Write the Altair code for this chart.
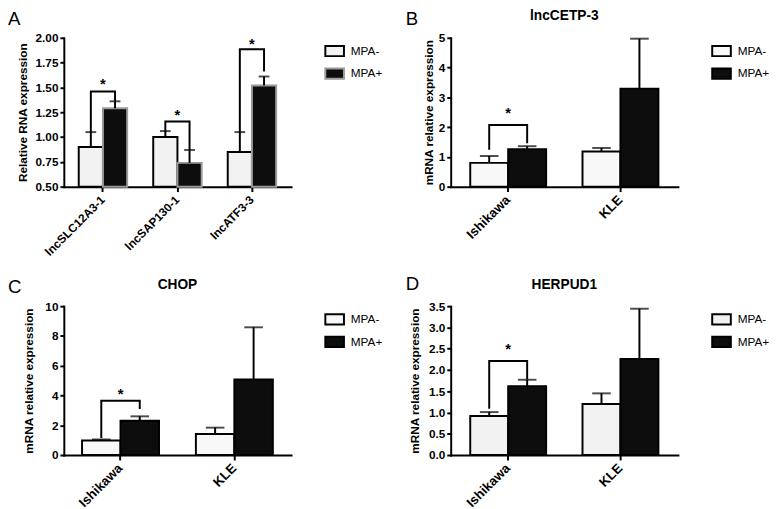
import altair as alt
import pandas as pd

GROUPS = ["MPA-", "MPA+"]
LETTERS = ["A", "B", "C", "D"]
TITLES = ["", "lncCETP-3", "CHOP", "HERPUD1"]
Y_TITLES = ["Relative RNA expression", "mRNA relative expression",
            "mRNA relative expression", "mRNA relative expression"]

# Panel A
A_CATS = ["lncSLC12A3-1", "lncSAP130-1", "lncATF3-3"]
A_MINUS = [0.90, 1.00, 0.85]
A_MINUS_ERR = [1.05, 1.06, 1.05]
A_PLUS = [1.29, 0.74, 1.52]
A_PLUS_ERR = [1.36, 0.87, 1.61]
A_BR_CATS = ["lncSLC12A3-1", "lncSAP130-1", "lncATF3-3"]
A_BR_TOP = [1.46, 1.157, 1.885]
A_BR_LEFT = [1.05, 1.06, 1.05]
A_BR_RIGHT = [1.36, 0.87, 1.66]
A_STAR = [1.56, 1.25, 1.97]
A_TICKS = [0.50, 0.75, 1.00, 1.25, 1.50, 1.75, 2.00]

CELL_CATS = ["Ishikawa", "KLE"]

# Panel B  lncCETP-3
B_MINUS = [0.80, 1.18]
B_MINUS_ERR = [1.03, 1.30]
B_PLUS = [1.26, 3.29]
B_PLUS_ERR = [1.36, 4.97]
B_BR_CATS = ["Ishikawa"]
B_BR_TOP = [2.07]
B_BR_LEFT = [1.24]
B_BR_RIGHT = [1.46]
B_STAR = [2.56]
B_TICKS = [0, 1, 2, 3, 4, 5]

# Panel C  CHOP
C_MINUS = [0.98, 1.42]
C_MINUS_ERR = [1.05, 1.84]
C_PLUS = [2.30, 5.08]
C_PLUS_ERR = [2.60, 8.58]
C_BR_CATS = ["Ishikawa"]
C_BR_TOP = [3.65]
C_BR_LEFT = [1.14]
C_BR_RIGHT = [3.10]
C_STAR = [4.30]
C_TICKS = [0, 2, 4, 6, 8, 10]

# Panel D  HERPUD1
D_MINUS = [0.92, 1.20]
D_MINUS_ERR = [1.01, 1.45]
D_PLUS = [1.62, 2.26]
D_PLUS_ERR = [1.77, 3.44]
D_BR_CATS = ["Ishikawa"]
D_BR_TOP = [2.21]
D_BR_LEFT = [1.09]
D_BR_RIGHT = [1.78]
D_STAR = [2.57]
D_TICKS = [0.0, 0.5, 1.0, 1.5, 2.0, 2.5, 3.0, 3.5]

FONT = "Liberation Sans"
W, H = 232, 152


def panel(idx, cats, minus, minus_err, plus, plus_err, base,
          br_cats, br_top, br_left, br_right, star, ticks, fmt, domain,
          title_pad, cap, fills, strokes, pad_inner, pad_outer, label_size,
          letter_x, letter_y):
    n = len(cats)
    bars = pd.DataFrame({
        "cat": cats * 2,
        "grp": ["MPA-"] * n + ["MPA+"] * n,
        "val": minus + plus,
        "err": minus_err + plus_err,
        "base": [base] * (2 * n),
    })
    rows = []
    for c, t, l, r in zip(br_cats, br_top, br_left, br_right):
        rows += [
            {"cat": c, "grp": "MPA-", "v": l, "o": 0},
            {"cat": c, "grp": "MPA-", "v": t, "o": 1},
            {"cat": c, "grp": "MPA+", "v": t, "o": 2},
            {"cat": c, "grp": "MPA+", "v": r, "o": 3},
        ]
    brackets = pd.DataFrame(rows)
    stars = pd.DataFrame({"cat": br_cats, "v": star})
    letter = pd.DataFrame({"t": [LETTERS[idx]]})
    gene = pd.DataFrame({"t": [TITLES[idx]]})

    xscale = alt.Scale(paddingInner=pad_inner, paddingOuter=pad_outer)
    xaxis = alt.Axis(title=None, labelAngle=-45, labelAlign="right",
                     labelBaseline="middle", tickSize=5, labelPadding=6,
                     labelFontSize=label_size)
    x = alt.X("cat:N", sort=cats, scale=xscale, axis=xaxis)
    xo = alt.XOffset("grp:N", sort=GROUPS,
                     scale=alt.Scale(paddingInner=0, paddingOuter=0))
    yscale = alt.Scale(domain=domain, nice=False, zero=False)
    yaxis = alt.Axis(values=ticks, format=fmt, title=Y_TITLES[idx],
                     titlePadding=title_pad, labelFlush=False)

    def Y(field):
        return alt.Y(field, scale=yscale, axis=yaxis, title=Y_TITLES[idx])

    leg = alt.Legend(title=None, orient="none", legendX=266, legendY=3,
                     symbolType="M-1,-0.55L1,-0.55L1,0.55L-1,0.55Z",
                     symbolSize=361, symbolStrokeWidth=2,
                     labelFont=FONT, labelFontSize=12, labelColor="black",
                     labelOffset=6, rowPadding=3, padding=0)

    bar = alt.Chart(bars).mark_bar(strokeWidth=2).encode(
        x=x, xOffset=xo, y=Y("val:Q"), y2="base:Q",
        fill=alt.Fill("grp:N", sort=GROUPS,
                      scale=alt.Scale(domain=GROUPS, range=fills), legend=leg),
        stroke=alt.Stroke("grp:N", sort=GROUPS,
                          scale=alt.Scale(domain=GROUPS, range=strokes), legend=leg),
    )
    stem = alt.Chart(bars).mark_rule(color="black", strokeWidth=2).encode(
        x=x, xOffset=xo, y=Y("val:Q"), y2="err:Q")
    capm = alt.Chart(bars).mark_tick(color="black", thickness=2, size=cap,
                                     orient="horizontal").encode(
        x=x, xOffset=xo, y=Y("err:Q"))
    br = alt.Chart(brackets).mark_line(color="black", strokeWidth=2,
                                       strokeJoin="miter").encode(
        x=x, xOffset=xo, y=Y("v:Q"), detail="cat:N", order="o:Q")
    st = alt.Chart(stars).mark_text(text="*", font=FONT, fontSize=15,
                                    fontWeight="bold", baseline="alphabetic",
                                    dy=8, color="black").encode(
        x=x, y=Y("v:Q"))
    let = alt.Chart(letter).mark_text(font=FONT, fontSize=19, align="left",
                                      baseline="alphabetic", color="black").encode(
        text="t:N", x=alt.value(letter_x), y=alt.value(letter_y))

    layers = [bar, stem, capm, br, st, let]
    if TITLES[idx]:
        ttl = alt.Chart(gene).mark_text(font=FONT, fontSize=14, fontWeight="bold",
                                        align="center", baseline="alphabetic",
                                        color="black").encode(
            text="t:N", x=alt.value(W / 2), y=alt.value(-18))
        layers.append(ttl)
    return alt.layer(*layers).properties(width=W, height=H)


LIGHT = "#f2f2f2"
DARK = "#0d0d0d"

pA = panel(0, A_CATS, A_MINUS, A_MINUS_ERR, A_PLUS, A_PLUS_ERR, 0.5,
           A_BR_CATS, A_BR_TOP, A_BR_LEFT, A_BR_RIGHT, A_STAR, A_TICKS, ".2f",
           [0.5, 2.0], 6, 11, [LIGHT, DARK], ["black", "#9a9a9a"], 0.35, 0.2, 12,
           -57, -13)
pB = panel(1, CELL_CATS, B_MINUS, B_MINUS_ERR, B_PLUS, B_PLUS_ERR, 0,
           B_BR_CATS, B_BR_TOP, B_BR_LEFT, B_BR_RIGHT, B_STAR, B_TICKS, "d",
           [0, 5], 3, 19, ["#f8f8f8", DARK], ["black", "black"], 0.324, 0.174, 13.5,
           -46, -13)
pC = panel(2, CELL_CATS, C_MINUS, C_MINUS_ERR, C_PLUS, C_PLUS_ERR, 0,
           C_BR_CATS, C_BR_TOP, C_BR_LEFT, C_BR_RIGHT, C_STAR, C_TICKS, "d",
           [0, 10], 10, 19, ["#f8f8f8", DARK], ["black", "black"], 0.324, 0.16, 13.5,
           -57, -13)
pD = panel(3, CELL_CATS, D_MINUS, D_MINUS_ERR, D_PLUS, D_PLUS_ERR, 0,
           D_BR_CATS, D_BR_TOP, D_BR_LEFT, D_BR_RIGHT, D_STAR, D_TICKS, ".1f",
           [0, 3.5], 7, 19, [LIGHT, DARK], ["black", "black"], 0.324, 0.174, 13.5,
           -46, -16)

chart = alt.concat(
    pA, pB, pC, pD, columns=2,
    spacing={"row": 122, "column": 163},
    bounds="flush",
).resolve_scale(
    fill="independent", stroke="independent", x="independent", y="independent",
    xOffset="independent"
).resolve_legend(
    fill="independent", stroke="independent"
).properties(
    padding={"top": -4, "left": 0, "right": 0, "bottom": 10}, background="white"
).configure_view(
    strokeWidth=0
).configure_axis(
    domainColor="black", domainWidth=2, domainCap="square",
    tickColor="black", tickWidth=2, tickSize=4,
    labelColor="black", labelFont=FONT, labelFontWeight="bold",
    labelFontSize=12, labelPadding=2,
    titleColor="black", titleFont=FONT, titleFontWeight="bold",
    titleFontSize=12, grid=False,
)

chart.save("out.html", embed_options={"renderer": "svg", "actions": False})
